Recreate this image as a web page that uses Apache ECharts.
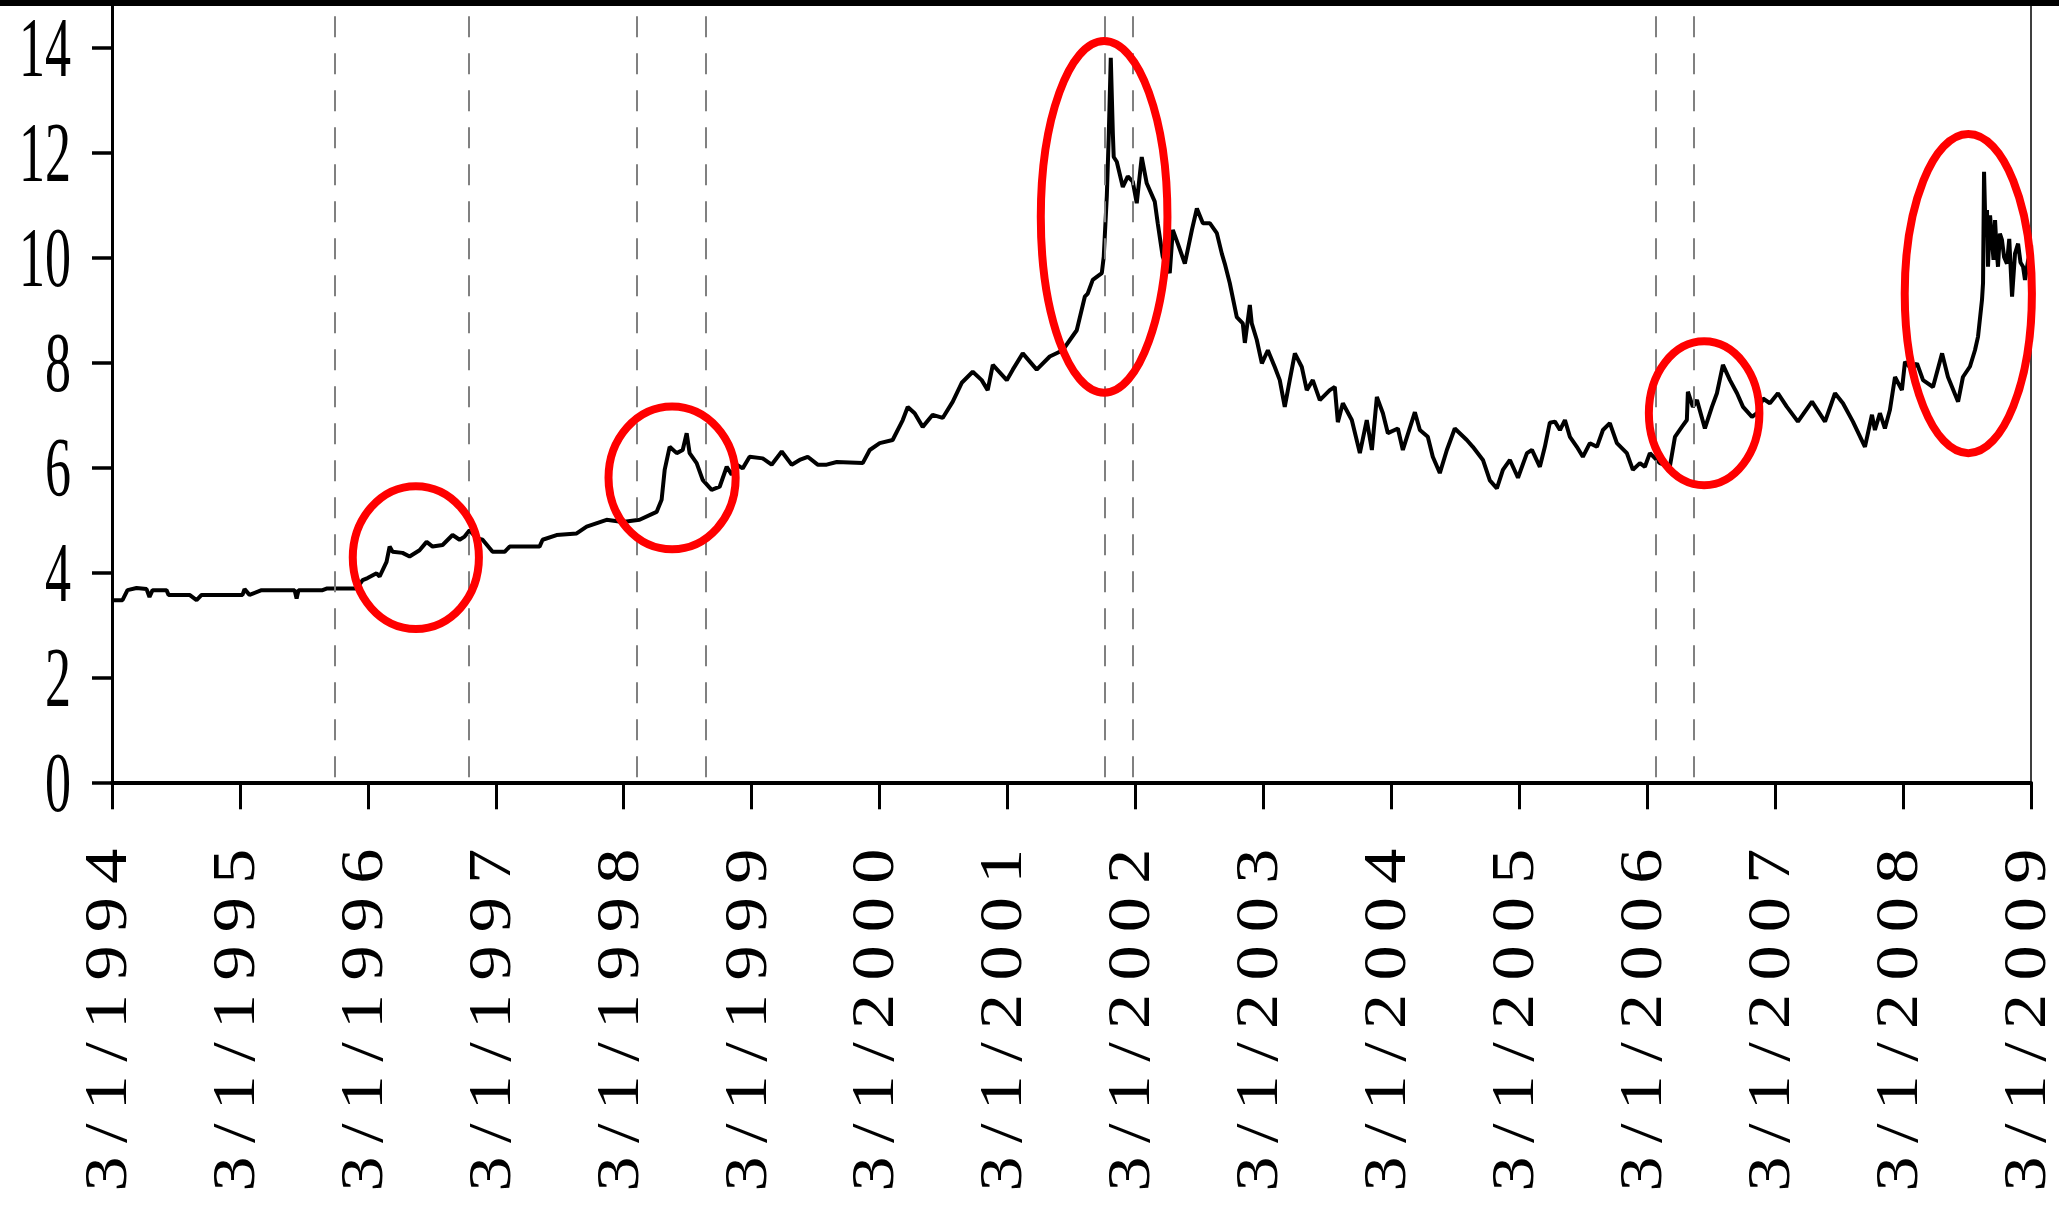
<!DOCTYPE html>
<html>
<head>
<meta charset="utf-8">
<script src="https://cdn.jsdelivr.net/npm/echarts@6.0.0/dist/echarts.min.js"></script>
<style>
  html, body { margin: 0; padding: 0; background: #ffffff; }
  #chart { width: 2059px; height: 1210px; }
</style>
</head>
<body>
<div id="chart"></div>
<script>
// Trading dates as decimal years (1994.0 = 3 Jan 1994) and the exchange rate on each.
const tradeYear = [
  1994.004, 1994.082, 1994.121, 1994.192, 1994.270, 1994.293, 1994.317, 1994.426, 1994.442, 1994.606,
  1994.661, 1994.700, 1995.020, 1995.036, 1995.075, 1995.169, 1995.427, 1995.443, 1995.458, 1995.646,
  1995.677, 1995.912, 1995.959, 1995.998, 1996.068, 1996.092, 1996.146, 1996.170, 1996.193, 1996.271,
  1996.326, 1996.404, 1996.459, 1996.506, 1996.584, 1996.662, 1996.717, 1996.756, 1996.795, 1996.850,
  1996.897, 1996.975, 1997.069, 1997.108, 1997.342, 1997.366, 1997.475, 1997.632, 1997.710,
  1997.866, 1997.991, 1998.124, 1998.257, 1998.296, 1998.320, 1998.359, 1998.414, 1998.461, 1998.492,
  1998.515, 1998.570, 1998.617, 1998.687, 1998.750, 1998.805, 1998.844, 1998.883, 1998.930, 1998.984,
  1999.086, 1999.156, 1999.235, 1999.313, 1999.375, 1999.438, 1999.516, 1999.586, 1999.665, 1999.868,
  1999.923, 2000.001, 2000.102, 2000.181, 2000.220, 2000.274, 2000.337, 2000.415, 2000.493, 2000.572,
  2000.642, 2000.728, 2000.798, 2000.845, 2000.885, 2000.994, 2001.041, 2001.119, 2001.228, 2001.330,
  2001.432, 2001.486,
  2001.541, 2001.604, 2001.627, 2001.666, 2001.737, 2001.752, 2001.776, 2001.791, 2001.807, 2001.823,
  2001.830, 2001.854, 2001.901, 2001.940, 2001.979, 2002.010, 2002.049, 2002.088, 2002.151, 2002.174,
  2002.213, 2002.268, 2002.292, 2002.331, 2002.386, 2002.441, 2002.480, 2002.527, 2002.581, 2002.636,
  2002.675, 2002.698, 2002.737, 2002.792, 2002.839, 2002.855, 2002.894, 2002.909, 2002.948, 2002.988,
  2003.035, 2003.089, 2003.128, 2003.167, 2003.206, 2003.246, 2003.300, 2003.339, 2003.386, 2003.441,
  2003.519, 2003.558, 2003.582, 2003.621, 2003.691, 2003.754, 2003.808, 2003.848, 2003.887, 2003.934,
  2003.973, 2004.051, 2004.090, 2004.184, 2004.223, 2004.285, 2004.324, 2004.379, 2004.434, 2004.496,
  2004.590, 2004.637, 2004.716, 2004.770, 2004.825, 2004.872, 2004.927, 2004.990, 2005.060, 2005.099,
  2005.161, 2005.200, 2005.239,
  2005.279, 2005.318, 2005.357, 2005.396, 2005.450, 2005.497, 2005.552, 2005.607, 2005.654, 2005.708,
  2005.763, 2005.841, 2005.888, 2005.943, 2005.982, 2006.021, 2006.099, 2006.177, 2006.217, 2006.271,
  2006.310, 2006.318, 2006.357, 2006.389, 2006.451, 2006.506, 2006.545, 2006.592, 2006.647, 2006.702,
  2006.749, 2006.819, 2006.858, 2006.905, 2006.959, 2007.022, 2007.092, 2007.178, 2007.288, 2007.390,
  2007.468, 2007.530, 2007.608, 2007.702, 2007.757, 2007.780, 2007.819, 2007.858, 2007.897, 2007.937,
  2007.991, 2008.015, 2008.070, 2008.109, 2008.156, 2008.234, 2008.305, 2008.351, 2008.430, 2008.468,
  2008.523, 2008.562, 2008.586, 2008.617, 2008.625, 2008.633, 2008.645, 2008.656, 2008.664, 2008.680,
  2008.695, 2008.707, 2008.719, 2008.731, 2008.742, 2008.757, 2008.773, 2008.790, 2008.812, 2008.830,
  2008.852, 2008.875, 2008.899, 2008.918, 2008.938, 2008.953, 2008.977, 2009.000
];

const rate = [
  3.47, 3.47, 3.66, 3.70, 3.68, 3.53, 3.66, 3.66, 3.57, 3.57,
  3.47, 3.57, 3.57, 3.68, 3.57, 3.66, 3.66, 3.50, 3.66, 3.66,
  3.69, 3.69, 3.85, 3.89, 3.98, 3.92, 4.20, 4.49, 4.39, 4.37,
  4.30, 4.42, 4.58, 4.49, 4.52, 4.71, 4.62, 4.68, 4.80, 4.65,
  4.62, 4.39, 4.39, 4.49, 4.49, 4.62, 4.71, 4.74, 4.87,
  5.00, 4.96, 5.00, 5.15, 5.38, 5.95, 6.39, 6.27, 6.33, 6.65,
  6.27, 6.08, 5.76, 5.57, 5.63, 6.01, 5.86, 6.05, 5.98, 6.20,
  6.17, 6.05, 6.30, 6.05, 6.14, 6.20, 6.05, 6.05, 6.10, 6.08,
  6.33, 6.46, 6.52, 6.90, 7.15, 7.03, 6.77, 7.00, 6.94, 7.25,
  7.61, 7.82, 7.66, 7.47, 7.95, 7.66, 7.86, 8.17, 7.86, 8.11,
  8.23, 8.42,
  8.61, 9.25, 9.31, 9.57, 9.70, 10.01, 11.16, 12.30, 13.80, 12.37,
  11.91, 11.82, 11.34, 11.54, 11.44, 11.03, 11.91, 11.41, 11.06, 10.65,
  10.01, 9.70, 10.52, 10.26, 9.88, 10.52, 10.93, 10.65, 10.65, 10.46,
  10.07, 9.88, 9.51, 8.86, 8.74, 8.37, 9.09, 8.74, 8.43, 7.98,
  8.23, 7.91, 7.66, 7.15, 7.66, 8.17, 7.91, 7.47, 7.66, 7.28,
  7.47, 7.53, 6.86, 7.22, 6.90, 6.27, 6.90, 6.33, 7.34, 7.03,
  6.65, 6.74, 6.33, 7.05, 6.71, 6.58, 6.20, 5.89, 6.33, 6.74,
  6.52, 6.39, 6.14, 5.75, 5.60, 5.95, 6.14, 5.80, 6.27, 6.33,
  6.01, 6.39, 6.85,
  6.87, 6.71, 6.90, 6.58, 6.39, 6.20, 6.46, 6.39, 6.71, 6.84,
  6.46, 6.27, 5.95, 6.08, 6.01, 6.27, 6.08, 6.01, 6.58, 6.77,
  6.90, 7.44, 7.15, 7.28, 6.74, 7.15, 7.41, 7.95, 7.66, 7.41,
  7.15, 6.96, 7.03, 7.31, 7.22, 7.41, 7.15, 6.87, 7.25, 6.87,
  7.41, 7.22, 6.87, 6.39, 7.00, 6.71, 7.03, 6.74, 7.09, 7.72,
  7.47, 8.01, 7.86, 7.98, 7.66, 7.53, 8.17, 7.72, 7.25, 7.72,
  7.92, 8.23, 8.49, 9.19, 9.51, 11.63, 10.45, 10.90, 9.82, 10.80,
  10.33, 9.95, 10.71, 10.15, 9.82, 10.45, 10.33, 10.00, 9.88, 10.35,
  9.25, 10.07, 10.26, 9.90, 9.82, 9.57, 9.94, 10.10
];

// Axis ticks
const yTicks = [0, 2, 4, 6, 8, 10, 12, 14];
const xTickYears = [1994, 1995, 1996, 1997, 1998, 1999, 2000, 2001, 2002, 2003, 2004, 2005, 2006, 2007, 2008, 2009];
const xTickPrefix = '3/1/';

// Dashed event markers (decimal years)
const eventLines = [1995.740, 1996.787, 1998.103, 1998.640, 2001.755, 2001.981, 2006.073, 2006.360];

// Highlighted episodes: centre year, centre rate, half width (years), half height (rate units)
const highlightYear  = [1996.375, 1998.378, 2001.755, 2006.445, 2008.510];
const highlightRate  = [4.28, 5.80, 10.77, 7.03, 9.31];
const highlightHalfW = [0.493, 0.497, 0.495, 0.432, 0.497];
const highlightHalfH = [1.36, 1.36, 3.35, 1.37, 3.04];

const chart = echarts.init(document.getElementById('chart'), null, { renderer: 'svg' });

const seriesData = tradeYear.map((t, i) => [t, rate[i]]);

chart.setOption({
  animation: false,
  backgroundColor: '#ffffff',
  grid: {
    left: 112,
    right: 28,
    top: -57.7,
    bottom: 427.7,
    containLabel: false,
    outerBoundsMode: 'none',
    show: true,
    borderColor: '#000000',
    borderWidth: 1.5,
    backgroundColor: 'transparent'
  },
  xAxis: {
    type: 'value',
    min: 1994,
    max: 2009,
    interval: 1,
    axisLine: { show: true, onZero: false, lineStyle: { color: '#000000', width: 4 } },
    axisTick: { show: true, inside: false, length: 27, lineStyle: { color: '#000000', width: 3 } },
    axisLabel: { show: false },
    splitLine: { show: false }
  },
  yAxis: {
    type: 'value',
    min: 0,
    max: 16,
    interval: 2,
    axisLine: { show: true, onZero: false, lineStyle: { color: '#000000', width: 3 } },
    axisTick: { show: true, inside: false, length: 20, lineStyle: { color: '#000000', width: 3.5 } },
    axisLabel: { show: false },
    splitLine: { show: false }
  },
  series: [{
    type: 'line',
    data: seriesData,
    symbol: 'none',
    showSymbol: false,
    smooth: false,
    silent: true,
    lineStyle: { color: '#000000', width: 4 },
    markLine: {
      silent: true,
      symbol: ['none', 'none'],
      label: { show: false },
      lineStyle: { color: '#808080', width: 2, type: [21, 16], dashOffset: 32 },
      emphasis: { disabled: true },
      data: eventLines.map(v => ({ xAxis: v }))
    }
  }]
});

// Tick labels, ellipses and the header band, positioned through the axes' own scales
const elements = [];
const labelFont = '"Liberation Serif", "Times New Roman", "DejaVu Serif", serif';
const dateLabelSpacing = 11.6;   // extra tracking between the characters of a date label
const dateLabelStretch = 1.15;

yTicks.forEach(v => {
  const py = chart.convertToPixel({ yAxisIndex: 0 }, v);
  elements.push({
    type: 'text',
    x: 71,
    y: py,
    scaleY: 1.62,
    silent: true,
    z: 50,
    style: {
      text: String(v),
      fontFamily: labelFont,
      fontSize: 52,
      lineHeight: 40,
      fill: '#000000',
      align: 'right',
      verticalAlign: 'middle'
    }
  });
});

const xLabelTop = chart.convertToPixel({ yAxisIndex: 0 }, 0) + 53;
xTickYears.forEach(yr => {
  const px = chart.convertToPixel({ xAxisIndex: 0 }, yr);
  elements.push({
    type: 'text',
    x: px - 7,
    y: xLabelTop,
    rotation: Math.PI / 2,
    scaleX: dateLabelStretch,
    silent: true,
    z: 50,
    style: {
      text: xTickPrefix + yr,
      fontFamily: labelFont,
      fontSize: 61,
      lineHeight: 44,
      fill: '#000000',
      align: 'right',
      verticalAlign: 'middle'
    }
  });
});

const pxPerYear = chart.convertToPixel({ xAxisIndex: 0 }, 1995) - chart.convertToPixel({ xAxisIndex: 0 }, 1994);
const pxPerUnit = chart.convertToPixel({ yAxisIndex: 0 }, 0) - chart.convertToPixel({ yAxisIndex: 0 }, 1);
highlightYear.forEach((yr, i) => {
  const c = chart.convertToPixel({ gridIndex: 0 }, [yr, highlightRate[i]]);
  elements.push({
    type: 'ellipse',
    silent: true,
    z: 60,
    shape: { cx: c[0], cy: c[1], rx: highlightHalfW[i] * pxPerYear, ry: highlightHalfH[i] * pxPerUnit },
    style: { fill: 'none', stroke: '#ff0000', lineWidth: 8 }
  });
});

elements.push({
  type: 'rect',
  silent: true,
  z: 70,
  shape: { x: 0, y: 0, width: 2059, height: 6 },
  style: { fill: '#000000' }
});

chart.setOption({ graphic: { elements: elements } });

// The date labels are set with wide, even tracking
function trackDateLabels() {
  chart.getDom().querySelectorAll('svg text').forEach(t => {
    if (t.textContent.indexOf(xTickPrefix) === 0) {
      t.style.letterSpacing = dateLabelSpacing + 'px';
    }
  });
}
trackDateLabels();
chart.on('rendered', trackDateLabels);
</script>
</body>
</html>
